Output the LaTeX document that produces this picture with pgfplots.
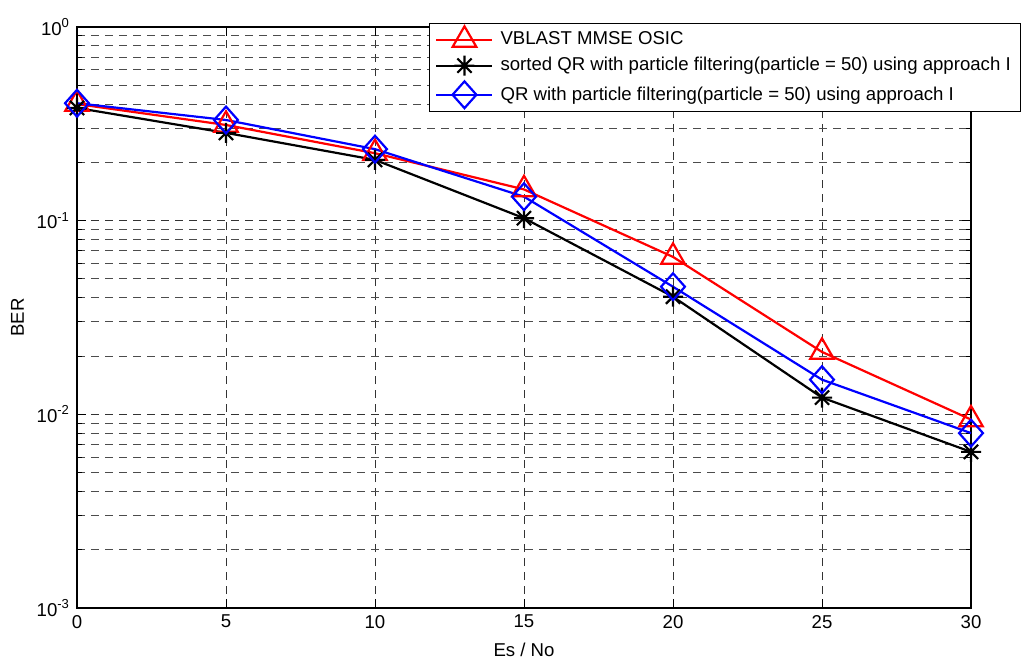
\documentclass[border=0pt]{standalone}
\usepackage{fontspec}
\setmainfont{Liberation Sans}
\usepackage{pgfplots}
\pgfplotsset{compat=1.18}
\pgfdeclareplotmark{mstar}{%
  \pgfpathmoveto{\pgfqpoint{-\pgfplotmarksize}{0pt}}\pgfpathlineto{\pgfqpoint{\pgfplotmarksize}{0pt}}%
  \pgfpathmoveto{\pgfqpoint{0pt}{-\pgfplotmarksize}}\pgfpathlineto{\pgfqpoint{0pt}{\pgfplotmarksize}}%
  \pgfpathmoveto{\pgfqpoint{-0.707\pgfplotmarksize}{-0.707\pgfplotmarksize}}\pgfpathlineto{\pgfqpoint{0.707\pgfplotmarksize}{0.707\pgfplotmarksize}}%
  \pgfpathmoveto{\pgfqpoint{-0.707\pgfplotmarksize}{0.707\pgfplotmarksize}}\pgfpathlineto{\pgfqpoint{0.707\pgfplotmarksize}{-0.707\pgfplotmarksize}}%
  \pgfusepathqstroke}
\pgfdeclareplotmark{mdiamond}{%
  \pgfpathmoveto{\pgfqpoint{0pt}{\pgfplotmarksize}}%
  \pgfpathlineto{\pgfqpoint{0.89\pgfplotmarksize}{0pt}}%
  \pgfpathlineto{\pgfqpoint{0pt}{-\pgfplotmarksize}}%
  \pgfpathlineto{\pgfqpoint{-0.89\pgfplotmarksize}{0pt}}%
  \pgfpathclose\pgfusepathqstroke}
\definecolor{mred}{RGB}{255,0,0}
\definecolor{mblue}{RGB}{0,0,255}
\begin{document}
\begin{tikzpicture}[font=\fontsize{9.3pt}{11pt}\selectfont]
\path[use as bounding box] (-38.5pt,-28pt) rectangle (472.5pt,304pt);
\begin{axis}[
  at={(0pt,0pt)}, anchor=south west,
  scale only axis, width=447pt, height=290.5pt,
  xmin=0, xmax=30, ymode=log, ymin=1e-3, ymax=1,
  xtick={0,5,...,30},
  ytick={1e-3,1e-2,1e-1,1},
  yticklabels={10\textsuperscript{-3},10\textsuperscript{-2},10\textsuperscript{-1},10\textsuperscript{0}},
  minor ytick={2e-3,3e-3,4e-3,5e-3,6e-3,7e-3,8e-3,9e-3,2e-2,3e-2,4e-2,5e-2,6e-2,7e-2,8e-2,9e-2,2e-1,3e-1,4e-1,5e-1,6e-1,7e-1,8e-1,9e-1},
  /pgf/number format/assume math mode=true,
  tick label style={font=\fontsize{9.3pt}{11pt}\selectfont},
  label style={font=\fontsize{9.3pt}{11pt}\selectfont},
  grid=both,
  major grid style={dash pattern=on 4pt off 3pt, black!80, line width=0.5pt},
  minor grid style={dash pattern=on 4pt off 3pt, black!70, line width=0.5pt},
  axis line style={line width=0.6pt},
  tick align=inside, major tick length=4.5pt, minor tick length=2.5pt,
  tick style={black, line width=0.5pt},
  xlabel={Es / No}, ylabel={BER},
  xlabel style={at={(axis description cs:0.5,0)}, anchor=north, yshift=-14pt},
  ylabel style={at={(axis description cs:0,0.5)}, anchor=south, yshift=23pt},
  legend cell align=left,
  legend style={at={(axis description cs:0.3935,1.0074)}, anchor=north west,
    draw=black, line width=0.6pt, fill=white, font=\fontsize{9.3pt}{11pt}\selectfont,
    inner xsep=3pt, inner ysep=1.5pt, row sep=2.75pt, column sep=1.5pt,
    nodes={inner ysep=1pt}},
  legend image code/.code={\draw[mark repeat=2,mark phase=2] plot coordinates {(0pt,0pt)(14pt,0pt)(28pt,0pt)};},
]
\addplot[color=mred, line width=1.1pt, mark=triangle, mark size=6.8pt, mark options={solid, line width=1.1pt}]
  coordinates {(0,0.400)(5,0.312)(10,0.223)(15,0.145)(20,0.065)(25,0.0210)(30,0.0094)};
\addlegendentry{VBLAST MMSE OSIC}
\addplot[color=black, line width=1.1pt, mark=mstar, mark size=5pt, mark options={solid, line width=1.1pt}]
  coordinates {(0,0.382)(5,0.284)(10,0.206)(15,0.103)(20,0.0405)(25,0.0122)(30,0.0064)};
\addlegendentry{sorted QR with particle filtering(particle = 50) using approach I}
\addplot[color=mblue, line width=1.1pt, mark=mdiamond, mark size=6.7pt, mark options={solid, line width=1.1pt}]
  coordinates {(0,0.404)(5,0.331)(10,0.234)(15,0.133)(20,0.0456)(25,0.0151)(30,0.0080)};
\addlegendentry{QR with particle filtering(particle = 50) using approach I}
\end{axis}
\end{tikzpicture}
\end{document}
